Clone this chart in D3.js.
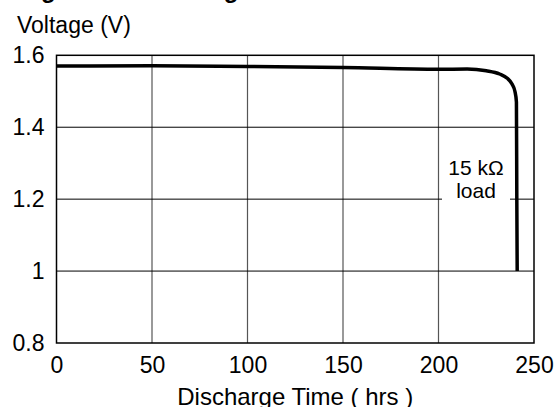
<!DOCTYPE html>
<html lang="en">
<head>
<meta charset="UTF-8">
<title>Discharge</title>
<script src="https://unpkg.com/d3@7.8.5/dist/d3.min.js"></script>
<style>
  body { margin: 0; background: #fff; }
  text { font-family: "Liberation Sans", Arial, sans-serif; }
</style>
</head>
<body>
<svg width="554" height="407"></svg>
<script>
// discharge curve, 15 kOhm load
var hours = [0, 50, 100, 150, 200, 215, 225, 232, 236, 238.5, 240, 240.8, 241, 241.2]
var volts = [1.570, 1.571, 1.569, 1.566, 1.561, 1.562, 1.557, 1.548, 1.536, 1.52, 1.50, 1.47, 1.2, 1.0]
var xTicks = [0, 50, 100, 150, 200, 250]
var yTicks = [0.8, 1, 1.2, 1.4, 1.6]

var svg = d3.select('svg')
// plot box (note: "top" is reserved on window, so use other names)
var pL = 56.5, pR = 534, pT = 55.3, pB = 343

var x = d3.scaleLinear().domain([0, 250]).range([pL, pR])
var y = d3.scaleLinear().domain([0.8, 1.6]).range([pB, pT])

// cut-off title
svg.append('text').attr('x', 17).attr('y', -2)
    .attr('font-size', 24).attr('font-weight', 'bold')
    .text('High Rate Discharge')

svg.append('text').attr('x', 17).attr('y', 33)
    .attr('font-size', 23).text('Voltage (V)')

// grid
svg.append('g').selectAll('line').data(xTicks.slice(1, -1)).enter()
    .append('line')
    .attr('x1', d => x(d)).attr('x2', d => x(d))
    .attr('y1', pT).attr('y2', pB)
    .attr('stroke', '#555').attr('stroke-width', 1.2)

svg.append('g').selectAll('line').data(yTicks.slice(1, -1)).enter()
    .append('line')
    .attr('x1', pL).attr('x2', pR)
    .attr('y1', d => y(d)).attr('y2', d => y(d))
    .attr('stroke', '#000').attr('stroke-width', 1)

// axes (labels only)
svg.append('g').attr('transform', 'translate(0,' + pB + ')')
    .call(d3.axisBottom(x).tickValues(xTicks).tickSize(0).tickPadding(14))
svg.append('g').attr('transform', 'translate(' + pL + ',0)')
    .call(d3.axisLeft(y).tickValues(yTicks).tickSize(0).tickPadding(12).tickFormat(d3.format('')))
svg.selectAll('.domain').remove()
svg.selectAll('.tick text').attr('font-size', 23).attr('fill', '#000')
    .attr('font-family', '"Liberation Sans", Arial, sans-serif')

svg.append('rect').attr('x', pL).attr('y', pT)
    .attr('width', pR - pL).attr('height', pB - pT)
    .attr('fill', 'none').attr('stroke', '#000').attr('stroke-width', 1.5)

// label with white background
var lab = svg.append('g')
lab.append('rect').attr('x', 442).attr('y', 158).attr('width', 68).attr('height', 48).attr('fill', '#fff')
lab.append('text').attr('x', 476).attr('y', 175).attr('text-anchor', 'middle')
    .attr('font-size', 21).text('15 kΩ')
lab.append('text').attr('x', 476).attr('y', 198).attr('text-anchor', 'middle')
    .attr('font-size', 21).text('load')

// curve
var line = d3.line().x((d, i) => x(hours[i])).y(d => y(d)).curve(d3.curveMonotoneX)
svg.append('path').datum(volts)
    .attr('d', line)
    .attr('fill', 'none').attr('stroke', '#000').attr('stroke-width', 3.5)

svg.append('text').attr('x', (pL + pR) / 2).attr('y', 405)
    .attr('text-anchor', 'middle').attr('font-size', 24).text('Discharge Time ( hrs )')
</script>
</body>
</html>
